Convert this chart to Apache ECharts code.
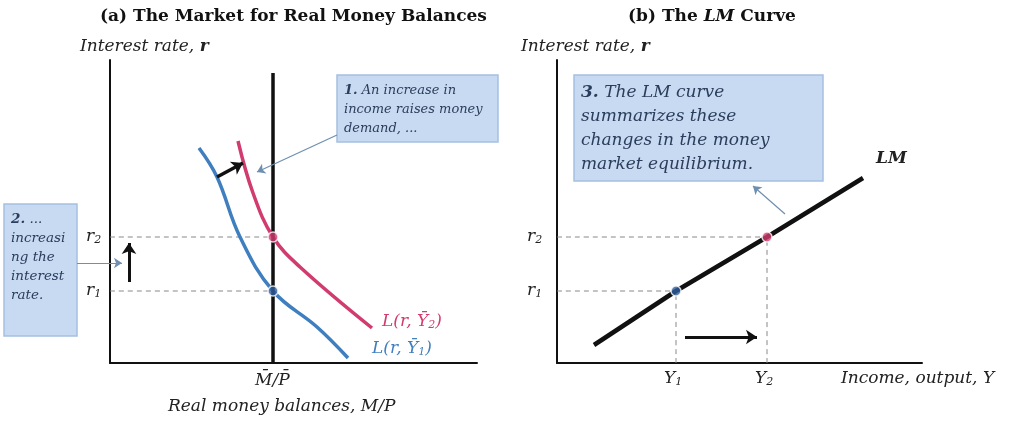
<!DOCTYPE html><html><head><meta charset="utf-8">
<script src="https://cdn.jsdelivr.net/npm/echarts@6/dist/echarts.min.js"></script>
<style>html,body{margin:0;background:#fff}#c{width:1024px;height:435px}</style></head><body><div id="c"></div>
<script>
// Left panel (money market), values in axis units
const moneySupplyX = 163;
const moneySupplyLine = [[163,0],[163,290]];
const demandY1 = [[89,215],[107,186],[130,126],[163,72],[207,36],[238,5]];
const demandY2 = [[128,222],[143,170],[163,126],[190,96],[262,35]];
const r1 = 72, r2 = 126;
const shiftArrow = [[107,186],[133,200]];
const upArrow = [[19,81],[19,120]];
const pointer1 = [[227,228],[147,191]];
const pointer2 = [[-33,100],[12,100]];
// Right panel (LM curve)
const lmLine = [[37,18],[119,72],[210,126],[306,185]];
const y1X = 119, y2X = 210;
const rightArrow = [[128,26],[200,26]];
const pointer3 = [[228,149],[196,177]];

const BLUE='#3f7fbf', PINK='#d13b6f', FONT='DejaVu Serif', BOXTXT='#2b3d5c';
const chart = echarts.init(document.getElementById('c'));
const ax = (i)=>({gridIndex:i,min:0,max:i===0?367:365,show:true,axisLine:{lineStyle:{color:'#111',width:2}},axisTick:{show:false},axisLabel:{show:false},splitLine:{show:false}});
const ay = (i)=>({gridIndex:i,min:0,max:303,axisLine:{show:true,lineStyle:{color:'#111',width:2}},axisTick:{show:false},axisLabel:{show:false},splitLine:{show:false}});
const line=(i,data,color,w,type)=>({type:'line',xAxisIndex:i,yAxisIndex:i,data,smooth:0.4,symbol:'none',lineStyle:{color,width:w,type:type||'solid'},z:type?1:3,silent:true});
const arrow=(i,coords,color,w,size)=>({type:'lines',coordinateSystem:'cartesian2d',xAxisIndex:i,yAxisIndex:i,clip:false,symbol:['none','arrow'],symbolSize:size,data:[{coords}],lineStyle:{color,width:w,opacity:1},z:25,silent:true});
const dot=(i,pt,color)=>({type:'scatter',xAxisIndex:i,yAxisIndex:i,data:[pt],symbolSize:10,itemStyle:{color,borderColor:'#fff',borderWidth:1.5},z:10,silent:true});
const rich=(x,y,t,color,fs)=>{fs=fs||17;const c=color||'#222';return {type:'text',left:x,top:y,style:{text:t,fill:c,rich:{i:{fontFamily:FONT,fontStyle:'italic',fontSize:fs,fill:c},s:{fontFamily:FONT,fontStyle:'italic',fontSize:Math.round(fs*0.62),fill:c,padding:[7,0,0,0]},b:{fontFamily:FONT,fontStyle:'italic',fontWeight:'bold',fontSize:fs,fill:c}}}};};
const box=(x,y,w,h,lines,size,lh)=>[{type:'rect',shape:{x,y,width:w,height:h},style:{fill:'#c7daf1',stroke:'#a5c0e2',lineWidth:1.5},z:20},
 {type:'text',x:x+7,y:y+6,z:21,style:{text:lines,lineHeight:lh,rich:{n:{fontFamily:FONT,fontStyle:'italic',fontWeight:'bold',fontSize:size,fill:BOXTXT,lineHeight:lh},t:{fontFamily:FONT,fontStyle:'italic',fontSize:size,fill:BOXTXT,lineHeight:lh}}}}];
chart.setOption({
 animation:false,
 grid:[{left:110,top:60,width:367,height:303},{left:557,top:60,width:365,height:303}],
 xAxis:[ax(0),ax(1)], yAxis:[ay(0),ay(1)],
 series:[
  line(0,[[0,r2],[moneySupplyX,r2]],'#888',1,[5,4]),
  line(0,[[0,r1],[moneySupplyX,r1]],'#888',1,[5,4]),
  {type:'line',xAxisIndex:0,yAxisIndex:0,data:moneySupplyLine,symbol:'none',lineStyle:{color:'#111',width:3.5},z:4,silent:true},
  line(0,demandY1,BLUE,3.5), line(0,demandY2,PINK,3.5),
  dot(0,[moneySupplyX,r2],PINK), dot(0,[moneySupplyX,r1],'#2f5f9f'),
  arrow(0,shiftArrow,'#111',3.5,11), arrow(0,upArrow,'#111',3,11),
  arrow(0,pointer1,'#6f8fb0',1.2,8), arrow(0,pointer2,'#6f8fb0',1.2,8),
  line(1,[[0,r2],[y2X,r2]],'#888',1,[5,4]), line(1,[[0,r1],[y1X,r1]],'#888',1,[5,4]),
  line(1,[[y1X,0],[y1X,r1]],'#888',1,[5,4]), line(1,[[y2X,0],[y2X,r2]],'#888',1,[5,4]),
  {type:'line',xAxisIndex:1,yAxisIndex:1,data:lmLine,symbol:'none',lineStyle:{color:'#111',width:4.5},z:4,silent:true},
  dot(1,[y2X,r2],PINK), dot(1,[y1X,r1],'#2f5f9f'),
  arrow(1,rightArrow,'#111',3,11), arrow(1,pointer3,'#6f8fb0',1.2,8)
 ],
 graphic:[
  {type:'text',left:100,top:8,style:{text:'(a) The Market for Real Money Balances',fontFamily:FONT,fontWeight:'bold',fontSize:17,fill:'#111'}},
  {type:'text',left:628,top:8,style:{text:'{a|(b) The }{b|LM}{a| Curve}',rich:{a:{fontFamily:FONT,fontWeight:'bold',fontSize:17,fill:'#111'},b:{fontFamily:FONT,fontWeight:'bold',fontStyle:'italic',fontSize:17,fill:'#111'}}}},
  rich(80,38,'{i|Interest rate, }{b|r}'), rich(521,38,'{i|Interest rate, }{b|r}'),
  rich(86,228,'{i|r}{s|2}'), rich(86,282,'{i|r}{s|1}'),
  rich(527,228,'{i|r}{s|2}'), rich(527,282,'{i|r}{s|1}'),
  rich(255,372,'{i|M̄/P̄}'), rich(168,398,'{i|Real money balances, M/P}'),
  rich(382,313,'{i|L(r, Ȳ}{s|2}{i|)}',PINK), rich(372,340,'{i|L(r, Ȳ}{s|1}{i|)}',BLUE),
  rich(664,370,'{i|Y}{s|1}'), rich(755,370,'{i|Y}{s|2}'),
  rich(841,370,'{i|Income, output, Y}'), rich(876,150,'{b|LM}'),
  ...box(337,75,161,67,'{n|1.}{t| An increase in}\n{t|income raises money}\n{t|demand, ...}',13,19),
  ...box(4,204,73,132,'{n|2.}{t| ...}\n{t|increasi}\n{t|ng the}\n{t|interest}\n{t|rate.}',13.5,19),
  ...box(574,75,249,106,'{n|3.}{t| The LM curve}\n{t|summarizes these}\n{t|changes in the money}\n{t|market equilibrium.}',17,24)
 ]
});
</script></body></html>
